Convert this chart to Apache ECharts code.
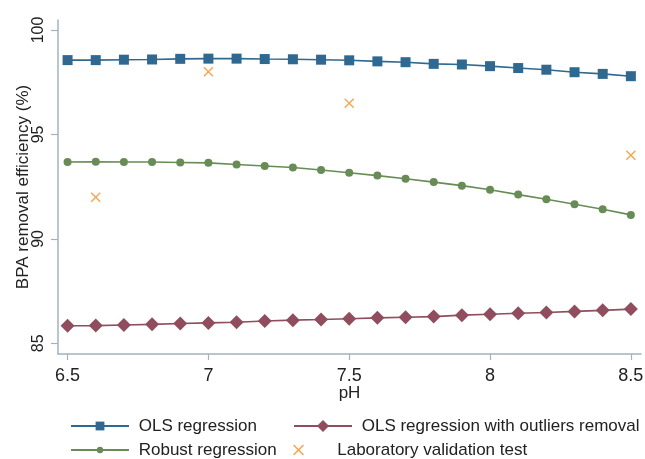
<!DOCTYPE html>
<html>
<head>
<meta charset="utf-8">
<style>
  html, body { margin: 0; padding: 0; background: #fff; }
  #chart { width: 645px; height: 459px; }
</style>
<script src="https://cdn.jsdelivr.net/npm/echarts@6/dist/echarts.min.js"></script>
</head>
<body>
<div id="chart"></div>
<script>
// pH grid used by the regression curves
const phValues = [6.5, 6.6, 6.7, 6.8, 6.9, 7.0, 7.1, 7.2, 7.3, 7.4, 7.5,
                  7.6, 7.7, 7.8, 7.9, 8.0, 8.1, 8.2, 8.3, 8.4, 8.5];

// Predicted BPA removal efficiency (%) per model
const olsValues = [98.56, 98.56, 98.58, 98.59, 98.62, 98.63, 98.63, 98.61, 98.60, 98.58, 98.55,
                   98.50, 98.46, 98.38, 98.35, 98.27, 98.18, 98.10, 97.98, 97.90, 97.79];
const robustValues = [93.68, 93.69, 93.68, 93.68, 93.66, 93.64, 93.56, 93.49, 93.42, 93.30, 93.17,
                      93.03, 92.88, 92.72, 92.55, 92.35, 92.12, 91.90, 91.66, 91.42, 91.15];
const outlierValues = [85.84, 85.85, 85.88, 85.91, 85.95, 85.98, 86.01, 86.07, 86.11, 86.14, 86.18,
                       86.22, 86.25, 86.28, 86.35, 86.39, 86.44, 86.48, 86.53, 86.58, 86.64];

// Laboratory validation runs: pH and measured efficiency
const labPh = [6.6, 7.0, 7.5, 8.5];
const labValues = [92.0, 98.0, 96.5, 94.0];

// Axis tick labels
const xTicks = [6.5, 7, 7.5, 8, 8.5];
const yTicks = [85, 90, 95, 100];

const seriesNames = ['OLS regression', 'OLS regression with outliers removal',
                     'Robust regression', 'Laboratory validation test'];

const FONT = '"Liberation Sans", Arial, sans-serif';
const C_BLUE = '#2f6890';
const C_MAROON = '#8f4d5e';
const C_GREEN = '#688c56';
const C_ORANGE = '#f29026';
const C_AXIS = '#9fb3c0';

const crossPath = 'path://M0,1L1,0L5,4L9,0L10,1L6,5L10,9L9,10L5,6L1,10L0,9L4,5Z';

const pair = (xs, ys) => xs.map((x, i) => [x, ys[i]]);

// One legend block per entry so each can sit in its own cell of the 2x2 key
function legendAt(name, iconLeft, centerY, itemHeight) {
  return {
    data: [name],
    left: iconLeft - 5,
    top: centerY - 15,
    orient: 'horizontal',
    itemWidth: 58,
    itemHeight: itemHeight,
    selectedMode: false,
    formatter: n => ' ' + n,
    textStyle: { fontFamily: FONT, fontSize: 17, color: '#222', lineHeight: 20 }
  };
}

const chart = echarts.init(document.getElementById('chart'), null, { renderer: 'canvas' });

chart.setOption({
  animation: false,
  backgroundColor: '#ffffff',
  grid: { left: 58, right: 4, top: 20, bottom: 105, containLabel: false, outerBoundsMode: 'none' },
  xAxis: {
    type: 'value',
    min: 6.466,
    max: 8.536,
    name: 'pH',
    nameLocation: 'middle',
    nameGap: 31,
    nameMoveOverlap: false,
    nameTextStyle: { fontFamily: FONT, fontSize: 17, color: '#222' },
    axisLine: { show: true, lineStyle: { color: C_AXIS, width: 1.5 } },
    axisTick: { show: true, length: 6, customValues: xTicks, lineStyle: { color: C_AXIS, width: 1.2 } },
    axisLabel: { customValues: xTicks, fontFamily: FONT, fontSize: 18, color: '#222', margin: 13,
                 formatter: v => String(v) },
    splitLine: { show: false }
  },
  yAxis: {
    type: 'value',
    min: 84.49,
    max: 100.48,
    name: 'BPA removal efficiency (%)',
    nameLocation: 'middle',
    nameGap: 26,
    nameMoveOverlap: false,
    nameTextStyle: { fontFamily: FONT, fontSize: 17, color: '#222' },
    axisLine: { show: true, lineStyle: { color: C_AXIS, width: 1.5 } },
    axisTick: { show: true, length: 7, customValues: yTicks, lineStyle: { color: C_AXIS, width: 1.2 } },
    axisLabel: { customValues: yTicks, rotate: 90, fontFamily: FONT, fontSize: 16, color: '#222', margin: 11,
                 formatter: v => String(v) },
    splitLine: { show: false }
  },
  legend: [
    legendAt(seriesNames[0], 70, 426, 11),
    legendAt(seriesNames[1], 293, 426, 15),
    legendAt(seriesNames[2], 70, 450, 8),
    legendAt(seriesNames[3], 293, 450, 11)
  ],
  series: [
    {
      name: seriesNames[0],
      type: 'line',
      data: pair(phValues, olsValues),
      symbol: 'rect',
      symbolSize: 10,
      color: C_BLUE,
      lineStyle: { color: C_BLUE, width: 1.6 },
      itemStyle: { color: C_BLUE },
      z: 4
    },
    {
      name: seriesNames[1],
      type: 'line',
      data: pair(phValues, outlierValues),
      symbol: 'diamond',
      symbolSize: [14, 14],
      color: C_MAROON,
      lineStyle: { color: C_MAROON, width: 1.6 },
      itemStyle: { color: C_MAROON },
      z: 3
    },
    {
      name: seriesNames[2],
      type: 'line',
      data: pair(phValues, robustValues),
      symbol: 'circle',
      symbolSize: 8,
      color: C_GREEN,
      lineStyle: { color: C_GREEN, width: 1.6 },
      itemStyle: { color: C_GREEN },
      z: 3
    },
    {
      name: seriesNames[3],
      type: 'scatter',
      data: pair(labPh, labValues),
      symbol: crossPath,
      symbolSize: 10,
      color: C_ORANGE,
      itemStyle: { color: C_ORANGE },
      z: 5
    }
  ]
});
</script>
</body>
</html>
